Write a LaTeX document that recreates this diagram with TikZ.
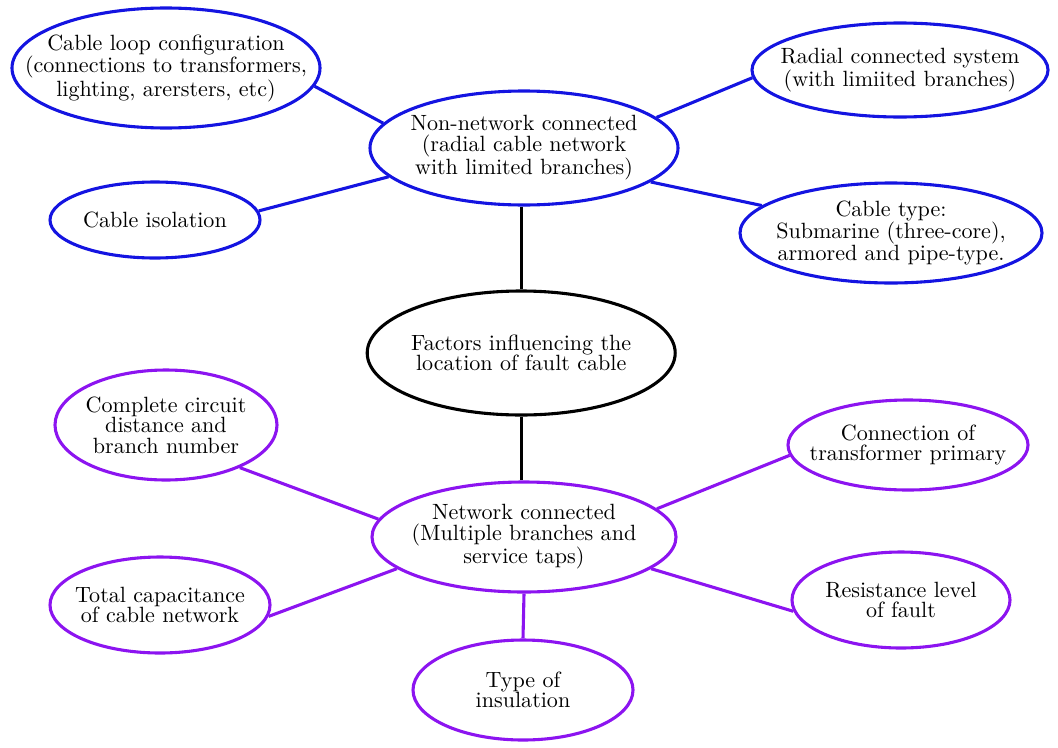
\documentclass[tikz,border=0pt]{standalone}
\usepackage{fontspec}
\setmainfont{lmroman10-regular.otf}
\usetikzlibrary{shapes.geometric, positioning}
\definecolor{nnblue}{RGB}{20,20,225}
\definecolor{netpurple}{RGB}{140,20,240}

\begin{document}
\begin{tikzpicture}[%
          bubble/.style={ellipse,
              draw,
              line width=2.2pt,
              align=center,
              inner xsep=-1.2cm,
              inner ysep=0pt,
              font=\fontsize{15.7}{14.6}\selectfont},
          nonnet/.style={bubble, draw=nnblue},
          netw/.style={bubble, draw=netpurple},
          link/.style={line width=2.2pt},
        ]
        \useasboundingbox (0,0) rectangle (26.45,-18.675);

        % upper group
        \node[nonnet, minimum width=7.7cm, minimum height=2.85cm] (nonnet) at (13.1,-3.7) {Non-network connected\\(radial cable network\\with limited branches)};
        \node[nonnet, minimum width=7.7cm, minimum height=3cm] (loop) at (4.15,-1.7) {Cable loop configuration\\(connections to transformers,\\lighting, arersters, etc)};
        \node[nonnet, minimum width=5.25cm, minimum height=1.9cm] (iso) at (3.875,-5.5) {Cable isolation};
        \node[nonnet, minimum width=7.4cm, minimum height=2.35cm] (radial) at (22.5,-1.75) {Radial connected system\\(with limiited branches)};
        \node[nonnet, minimum width=7.55cm, minimum height=2.5cm] (ctype) at (22.275,-5.825) {Cable type:\\Submarine (three-core),\\armored and pipe-type.};

        % centre
        \node[bubble, minimum width=7.7cm, minimum height=3.1cm] (factors) at (13.03,-8.825) {Factors influencing the\\location of fault cable};

        % lower group
        \node[netw, minimum width=7.6cm, minimum height=2.75cm] (net) at (13.1,-13.425) {Network connected\\(Multiple branches and\\service taps)};
        \node[netw, minimum width=5.55cm, minimum height=2.75cm] (circuit) at (4.15,-10.625) {Complete circuit\\distance and\\branch number};
        \node[netw, minimum width=5.5cm, minimum height=2.4cm] (totalcap) at (4,-15.125) {Total capacitance\\of cable network};
        \node[netw, minimum width=5.5cm, minimum height=2.5cm] (insul) at (13.075,-17.25) {Type of\\insulation};
        \node[netw, minimum width=6cm, minimum height=2.25cm] (conn) at (22.7,-11.125) {Connection of\\transformer primary};
        \node[netw, minimum width=5.45cm, minimum height=2.4cm] (resist) at (22.525,-15) {Resistance level\\of fault};

        \draw[link, nnblue] (loop.-7) -- (nonnet.170);
        \draw[link, nnblue] (iso.5) -- (nonnet.-168);
        \draw[link, nnblue] (nonnet.13) -- (radial.-177);
        \draw[link, nnblue] (nonnet.-15) -- (ctype.168);

        \draw[link] (factors.north |- nonnet.south) -- (factors.north);
        \draw[link] (factors.south) -- (factors.south |- net.north);

        \draw[link, netpurple] (circuit.-30) -- (net.173);
        \draw[link, netpurple] (totalcap.-6) -- (net.-166);
        \draw[link, netpurple] (net.12) -- (conn.-175);
        \draw[link, netpurple] (net.-14) -- (resist.-174);
        \draw[link, netpurple] (net.south) -- (insul.north);
      \end{tikzpicture}
\end{document}
